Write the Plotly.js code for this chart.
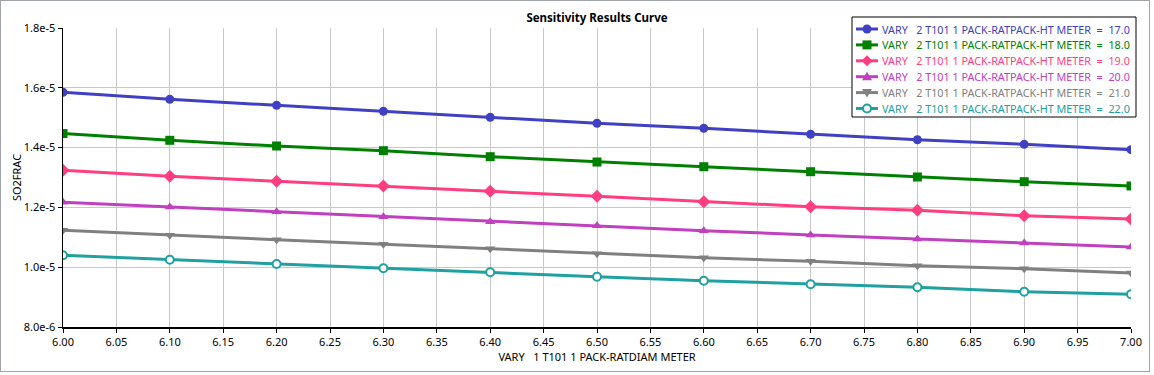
<!DOCTYPE html>
<html>
<head>
<meta charset="utf-8">
<script src="https://cdn.plot.ly/plotly-3.0.1.min.js"></script>
<style>
  html, body { margin: 0; padding: 0; background: #fff; }
  #wrap { position: relative; width: 1154px; height: 375px; }
  #chart { width: 1154px; height: 375px; }
  #frame { position: absolute; left: 0; top: 0; width: 1148px; height: 370px; border: 1px solid #A0A4A8; pointer-events: none; }
</style>
</head>
<body>
<div id="wrap"><div id="chart"></div><div id="frame"></div></div>
<script>
// ---- data ----
const xValues = [6.0, 6.1, 6.2, 6.3, 6.4, 6.5, 6.6, 6.7, 6.8, 6.9, 7.0];
const series17 = [1.585e-5, 1.5615e-5, 1.5415e-5, 1.5214e-5, 1.5013e-5, 1.4813e-5, 1.4646e-5, 1.4445e-5, 1.4264e-5, 1.411e-5, 1.393e-5];
const series18 = [1.447e-5, 1.4244e-5, 1.4054e-5, 1.3897e-5, 1.3696e-5, 1.3518e-5, 1.3361e-5, 1.3194e-5, 1.3017e-5, 1.286e-5, 1.2716e-5];
const series19 = [1.324e-5, 1.304e-5, 1.2873e-5, 1.2716e-5, 1.2538e-5, 1.2371e-5, 1.2191e-5, 1.2023e-5, 1.1903e-5, 1.1722e-5, 1.161e-5];
const series20 = [1.217e-5, 1.2013e-5, 1.1856e-5, 1.1689e-5, 1.1522e-5, 1.1388e-5, 1.1221e-5, 1.1077e-5, 1.0943e-5, 1.0809e-5, 1.0676e-5];
const series21 = [1.1234e-5, 1.1067e-5, 1.092e-5, 1.0766e-5, 1.0619e-5, 1.0452e-5, 1.0318e-5, 1.0197e-5, 1.005e-5, 0.995e-5, 0.9806e-5];
const series22 = [1.0398e-5, 1.025e-5, 1.0107e-5, 0.9963e-5, 0.983e-5, 0.9682e-5, 0.9548e-5, 0.9428e-5, 0.9328e-5, 0.918e-5, 0.9094e-5];
const seriesLabels = ["17.0", "18.0", "19.0", "20.0", "21.0", "22.0"];
const yTickVals = [8e-6, 1.0e-5, 1.2e-5, 1.4e-5, 1.6e-5, 1.8e-5];
const yTickText = ["8.0e-6", "1.0e-5", "1.2e-5", "1.4e-5", "1.6e-5", "1.8e-5"];
const chartTitle = "Sensitivity Results Curve";
const xTitle = "VARY\u00a0\u00a0\u00a01 T101 1 PACK-RATDIAM METER";
const yTitle = "SO2FRAC";
const seriesPrefix = "VARY\u00a0\u00a0\u00a02 T101 1 PACK-RATPACK-HT METER\u00a0\u00a0=\u00a0\u00a0";

// ---- styles ----
const allSeries = [series17, series18, series19, series20, series21, series22];
const colors = ["#4040C4", "#008000", "#FF3D80", "#C040C0", "#808080", "#20A0A0"];
const symbols = ["circle", "square", "diamond", "triangle-up", "triangle-down", "circle-open"];
const sizes = [9, 9, 10, 9, 9, 8];

const FONT = "'Noto Sans', 'Open Sans', sans-serif";

// plot-area geometry (pixels)
const W = 1154, H = 375;
const M = { l: 63, r: 23, t: 28, b: 48 };
const PW = W - M.l - M.r, PH = H - M.t - M.b;
const px = v => (v - M.l) / PW;          // pixel x -> paper x
const py = v => (H - M.b - v) / PH;      // pixel y -> paper y

const traces = allSeries.map((ys, i) => ({
  type: "scatter",
  mode: "lines+markers",
  x: xValues,
  y: ys,
  name: seriesPrefix + seriesLabels[i],
  showlegend: false,
  line: { color: colors[i], width: 3 },
  marker: {
    color: symbols[i] === "circle-open" ? "#ffffff" : colors[i],
    symbol: symbols[i] === "circle-open" ? "circle" : symbols[i],
    size: sizes[i],
    line: { color: colors[i], width: symbols[i] === "circle-open" ? 2 : 0 }
  }
}));

// ---- custom legend (box, sample line + symbol, coloured text) ----
const LEG = { left: 852, right: 1136, top: 17, bottom: 117, row0: 29, rowH: 15.9, lineX0: 856, lineX1: 878, symX: 867, textX: 880 };
const shapes = [{
  type: "rect", xref: "paper", yref: "paper", layer: "above",
  x0: px(LEG.left), x1: px(LEG.right), y0: py(LEG.bottom), y1: py(LEG.top),
  fillcolor: "#ffffff", line: { color: "#000000", width: 1 }
}];
const annotations = [];
function pathOf(pts) {
  return "M " + pts.map(p => px(p[0]) + "," + py(p[1])).join(" L ") + " Z";
}
seriesLabels.forEach((lab, i) => {
  const cy = LEG.row0 + LEG.rowH * i;
  const c = colors[i];
  shapes.push({ type: "line", xref: "paper", yref: "paper", layer: "above",
    x0: px(LEG.lineX0), x1: px(LEG.lineX1), y0: py(cy), y1: py(cy), line: { color: c, width: 3 } });
  const sx = LEG.symX;
  const s = symbols[i];
  if (s === "circle") {
    shapes.push({ type: "circle", xref: "paper", yref: "paper", layer: "above",
      x0: px(sx - 4.5), x1: px(sx + 4.5), y0: py(cy + 4.5), y1: py(cy - 4.5), fillcolor: c, line: { width: 0 } });
  } else if (s === "square") {
    shapes.push({ type: "rect", xref: "paper", yref: "paper", layer: "above",
      x0: px(sx - 4.5), x1: px(sx + 4.5), y0: py(cy + 4.5), y1: py(cy - 4.5), fillcolor: c, line: { width: 0 } });
  } else if (s === "diamond") {
    shapes.push({ type: "path", xref: "paper", yref: "paper", layer: "above",
      path: pathOf([[sx - 5.5, cy], [sx, cy - 5.5], [sx + 5.5, cy], [sx, cy + 5.5]]), fillcolor: c, line: { width: 0 } });
  } else if (s === "triangle-up") {
    shapes.push({ type: "path", xref: "paper", yref: "paper", layer: "above",
      path: pathOf([[sx - 5, cy + 3.5], [sx + 5, cy + 3.5], [sx, cy - 5]]), fillcolor: c, line: { width: 0 } });
  } else if (s === "triangle-down") {
    shapes.push({ type: "path", xref: "paper", yref: "paper", layer: "above",
      path: pathOf([[sx - 5, cy - 3.5], [sx + 5, cy - 3.5], [sx, cy + 5]]), fillcolor: c, line: { width: 0 } });
  } else {
    shapes.push({ type: "circle", xref: "paper", yref: "paper", layer: "above",
      x0: px(sx - 4), x1: px(sx + 4), y0: py(cy + 4), y1: py(cy - 4), fillcolor: "#ffffff", line: { color: c, width: 2 } });
  }
  annotations.push({
    xref: "paper", yref: "paper", x: px(LEG.textX), y: py(cy),
    xanchor: "left", yanchor: "middle", showarrow: false,
    text: seriesPrefix + lab,
    font: { family: FONT, size: 10.8, color: c }
  });
});

const layout = {
  width: W,
  height: H,
  margin: M,
  paper_bgcolor: "#ffffff",
  plot_bgcolor: "#ffffff",
  font: { family: FONT, size: 11, color: "#000000" },
  showlegend: false,
  title: {
    text: "<b>" + chartTitle + "</b>",
    font: { family: FONT, size: 11.5, color: "#000000" },
    x: px(597), xanchor: "center", xref: "paper",
    y: 0.952, yanchor: "middle"
  },
  xaxis: {
    range: [6.0, 7.0],
    dtick: 0.05,
    tick0: 6.0,
    tickformat: ".2f",
    showgrid: true,
    gridcolor: "#C8C8C8",
    gridwidth: 1,
    zeroline: false,
    showline: true,
    linecolor: "#000000",
    linewidth: 1.5,
    ticks: "outside",
    ticklen: 4,
    tickcolor: "#000000",
    tickfont: { family: FONT, size: 11, color: "#000000" },
    title: { text: xTitle, font: { family: FONT, size: 11, color: "#000000" }, standoff: 4 }
  },
  yaxis: {
    range: [8e-6, 1.8e-5],
    tickmode: "array",
    tickvals: yTickVals,
    ticktext: yTickText,
    showgrid: true,
    gridcolor: "#C8C8C8",
    gridwidth: 1,
    zeroline: false,
    showline: true,
    linecolor: "#000000",
    linewidth: 1.5,
    ticks: "outside",
    ticklen: 4,
    tickcolor: "#000000",
    tickfont: { family: FONT, size: 11, color: "#000000" },
    title: { text: yTitle, font: { family: FONT, size: 11, color: "#000000" }, standoff: 0 }
  },
  shapes: shapes,
  annotations: annotations
};

Plotly.newPlot("chart", traces, layout, { displayModeBar: false, staticPlot: true });
</script>
</body>
</html>
